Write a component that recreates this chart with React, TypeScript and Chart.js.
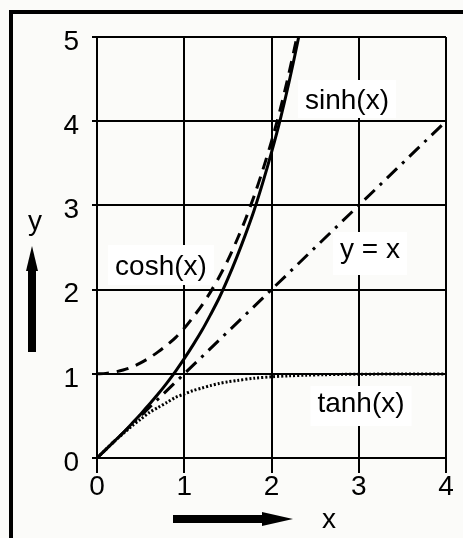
import React, { useEffect, useRef } from 'react';
import { Chart, registerables } from 'chart.js';

Chart.register(...registerables);

// ---- data ----
const xTickValues = [0, 1, 2, 3, 4];
const yTickValues = [0, 1, 2, 3, 4, 5];

const sinhX = [0, 0.1, 0.2, 0.3, 0.4, 0.5, 0.6, 0.7, 0.8, 0.9, 1.0, 1.1, 1.2, 1.3, 1.4, 1.5, 1.6, 1.7, 1.8, 1.9, 2.0, 2.1, 2.2, 2.3, 2.4];
const sinhY = [0, 0.1, 0.2, 0.3, 0.41, 0.52, 0.64, 0.76, 0.89, 1.03, 1.18, 1.34, 1.51, 1.7, 1.9, 2.13, 2.38, 2.65, 2.94, 3.27, 3.63, 4.02, 4.46, 4.94, 5.47];

const coshX = [0, 0.1, 0.2, 0.3, 0.4, 0.5, 0.6, 0.7, 0.8, 0.9, 1.0, 1.1, 1.2, 1.3, 1.4, 1.5, 1.6, 1.7, 1.8, 1.9, 2.0, 2.1, 2.2, 2.3];
const coshY = [1, 1.005, 1.02, 1.045, 1.08, 1.13, 1.19, 1.26, 1.34, 1.43, 1.54, 1.67, 1.81, 1.97, 2.15, 2.35, 2.58, 2.83, 3.11, 3.42, 3.76, 4.14, 4.57, 5.04];

const tanhX = [0, 0.1, 0.2, 0.3, 0.4, 0.5, 0.6, 0.7, 0.8, 0.9, 1.0, 1.1, 1.2, 1.3, 1.4, 1.5, 1.6, 1.8, 2.0, 2.2, 2.4, 2.6, 2.8, 3.0, 3.5, 4.0];
const tanhY = [0, 0.1, 0.2, 0.29, 0.38, 0.46, 0.54, 0.6, 0.66, 0.72, 0.76, 0.8, 0.83, 0.86, 0.885, 0.905, 0.92, 0.947, 0.964, 0.976, 0.984, 0.989, 0.993, 0.995, 0.998, 0.999];

const lineX = [0, 4];
const lineY = [0, 4];

const curveNames = ['sinh(x)', 'cosh(x)', 'y = x', 'tanh(x)'];
const axisNames = ['x', 'y'];

const pts = (xs: number[], ys: number[]) => xs.map((x, i) => ({ x, y: ys[i] }));

const FONT = '"Liberation Sans", Arial, sans-serif';

const decorPlugin = {
  id: 'decor',
  beforeDraw(chart: any) {
    const ctx = chart.ctx as CanvasRenderingContext2D;
    ctx.save();
    ctx.fillStyle = '#fbfbf9';
    ctx.fillRect(0, 0, chart.width, chart.height);
    // outer frame (top + left)
    ctx.fillStyle = '#000';
    ctx.fillRect(9, 10, chart.width - 9, 4);
    ctx.fillRect(9, 10, 4, chart.height - 10);
    ctx.restore();
  },
  beforeDatasetsDraw(chart: any) {
    const ctx = chart.ctx as CanvasRenderingContext2D;
    ctx.save();
    ctx.font = `28px ${FONT}`;
    ctx.textAlign = 'center';
    ctx.textBaseline = 'alphabetic';
    const spots = [
      { cx: 347, base: 109, top: 80, bot: 118 },
      { cx: 161, base: 275, top: 245, bot: 285 },
      { cx: 370, base: 258, top: 232, bot: 275 },
      { cx: 361, base: 412, top: 386, bot: 426 },
    ];
    curveNames.forEach((name, i) => {
      const s = spots[i];
      const w = ctx.measureText(name).width;
      ctx.fillStyle = '#ffffff';
      ctx.fillRect(s.cx - w / 2 - 7, s.top, w + 14, s.bot - s.top);
      ctx.fillStyle = '#000';
      ctx.fillText(name, s.cx, s.base);
    });
    ctx.restore();
  },
  afterDraw(chart: any) {
    const ctx = chart.ctx as CanvasRenderingContext2D;
    ctx.save();
    ctx.fillStyle = '#000';
    // x arrow
    ctx.fillRect(173, 515, 92, 8);
    ctx.beginPath();
    ctx.moveTo(262, 512);
    ctx.lineTo(293, 519);
    ctx.lineTo(262, 526);
    ctx.closePath();
    ctx.fill();
    // y arrow
    ctx.fillRect(28, 268, 8, 84);
    ctx.beginPath();
    ctx.moveTo(26, 271);
    ctx.lineTo(32, 246);
    ctx.lineTo(38, 271);
    ctx.closePath();
    ctx.fill();
    // axis titles
    ctx.font = `28px ${FONT}`;
    ctx.textAlign = 'center';
    ctx.textBaseline = 'alphabetic';
    ctx.fillText(axisNames[0], 329, 528);
    ctx.fillText(axisNames[1], 35, 230);
    ctx.restore();
  },
};

export default function App() {
  const ref = useRef<HTMLCanvasElement | null>(null);

  useEffect(() => {
    document.body.style.margin = '0';
    const canvas = ref.current;
    if (!canvas) return;
    const chart = new Chart(canvas, {
      type: 'scatter',
      data: {
        datasets: [
          {
            label: curveNames[0],
            data: pts(sinhX, sinhY),
            showLine: true,
            borderColor: '#000',
            borderWidth: 3,
            pointRadius: 0,
            tension: 0.3,
          },
          {
            label: curveNames[1],
            data: pts(coshX, coshY),
            showLine: true,
            borderColor: '#000',
            borderWidth: 3,
            borderDash: [12, 8],
            pointRadius: 0,
            tension: 0.3,
          },
          {
            label: curveNames[2],
            data: pts(lineX, lineY),
            showLine: true,
            borderColor: '#000',
            borderWidth: 3,
            borderDash: [14, 7, 3, 7],
            pointRadius: 0,
          },
          {
            label: curveNames[3],
            data: pts(tanhX, tanhY),
            showLine: true,
            borderColor: '#000',
            borderWidth: 3,
            borderDash: [2, 2],
            pointRadius: 0,
            tension: 0.3,
          },
        ],
      },
      options: {
        responsive: false,
        animation: false,
        devicePixelRatio: 1,
        layout: { padding: { left: 0, top: 37, right: 17, bottom: 0 } },
        plugins: { legend: { display: false }, tooltip: { enabled: false } },
        scales: {
          x: {
            type: 'linear',
            min: 0,
            max: 4,
            afterBuildTicks: (scale: any) => {
              scale.ticks = xTickValues.map((v) => ({ value: v }));
            },
            afterFit: (scale: any) => {
              scale.height = 80;
            },
            grid: { color: '#000', lineWidth: 2, tickLength: 15 },
            border: { color: '#000', width: 2 },
            ticks: {
              color: '#000',
              font: { family: FONT, size: 28 },
              padding: -3,
              maxRotation: 0,
            },
          },
          y: {
            type: 'linear',
            min: 0,
            max: 5,
            afterBuildTicks: (scale: any) => {
              scale.ticks = yTickValues.map((v) => ({ value: v }));
            },
            afterFit: (scale: any) => {
              scale.width = 97;
            },
            grid: { color: '#000', lineWidth: 2, tickLength: 5 },
            border: { color: '#000', width: 2 },
            ticks: {
              color: '#000',
              font: { family: FONT, size: 28 },
              padding: 13,
              labelOffset: 5,
            },
          },
        },
      },
      plugins: [decorPlugin],
    } as any);
    return () => chart.destroy();
  }, []);

  return <canvas ref={ref} width={463} height={538} style={{ display: 'block' }} />;
}
